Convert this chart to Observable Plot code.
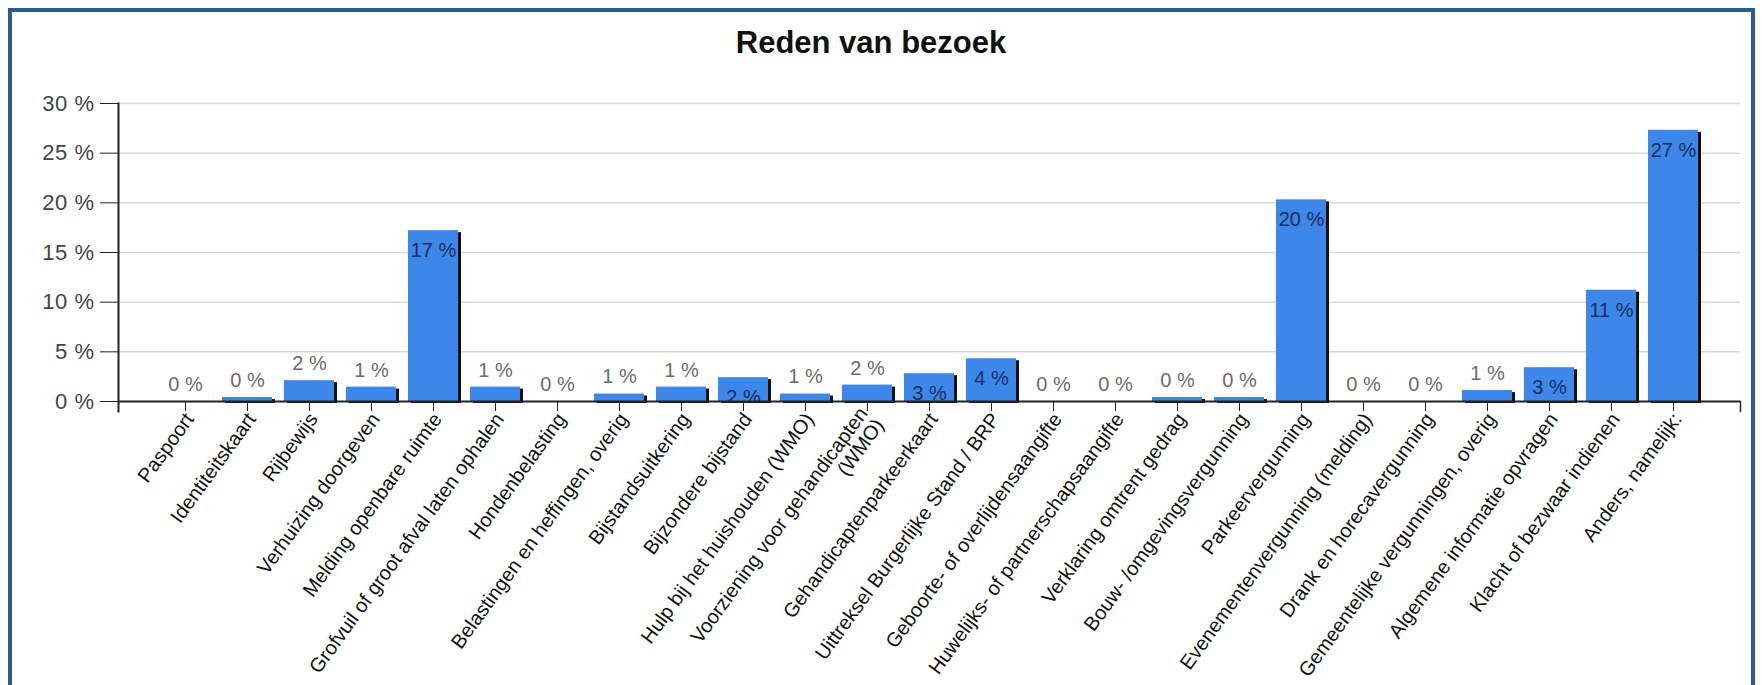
<!DOCTYPE html>
<html>
<head>
<meta charset="utf-8">
<script src="https://cdn.jsdelivr.net/npm/d3@7"></script>
<script src="https://cdn.jsdelivr.net/npm/@observablehq/plot@0.6"></script>
<style>
  body { margin: 0; background: #fff; font-family: "Liberation Sans", Arial, sans-serif; }
  #frame { position: absolute; left: 8px; top: 8px; width: 1747px; height: 690px; border: 4px solid #2c5a93; border-bottom: none; box-sizing: border-box; pointer-events: none; }
  #title { height: 60px; box-sizing: border-box; padding-top: 28px; line-height: 30px; width: 1742px; text-align: center; font-weight: bold; font-size: 31px; color: #111; }
  #chart { position: relative; }
  #chart g[aria-label="y-axis tick label"] text { letter-spacing: 0.5px; }
</style>
</head>
<body>
<div id="frame"></div>
<div id="title">Reden van bezoek</div>
<div id="chart"></div>
<script>
const categories = [
  "Paspoort",
  "Identiteitskaart",
  "Rijbewijs",
  "Verhuizing doorgeven",
  "Melding openbare ruimte",
  "Grofvuil of groot afval laten ophalen",
  "Hondenbelasting",
  "Belastingen en heffingen, overig",
  "Bijstandsuitkering",
  "Bijzondere bijstand",
  "Hulp bij het huishouden (WMO)",
  "Voorziening voor gehandicapten (WMO)",
  "Gehandicaptenparkeerkaart",
  "Uittreksel Burgerlijke Stand / BRP",
  "Geboorte- of overlijdensaangifte",
  "Huwelijks- of partnerschapsaangifte",
  "Verklaring omtrent gedrag",
  "Bouw- /omgevingsvergunning",
  "Parkeervergunning",
  "Evenementenvergunning (melding)",
  "Drank en horecavergunning",
  "Gemeentelijke vergunningen, overig",
  "Algemene informatie opvragen",
  "Klacht of bezwaar indienen",
  "Anders, namelijk:"
];
const values = [0, 0.4, 2.1, 1.45, 17.2, 1.45, 0, 0.75, 1.45, 2.4, 0.75, 1.65, 2.8, 4.3, 0, 0, 0.4, 0.4, 20.3, 0, 0, 1.1, 3.4, 11.2, 27.3];
const yTicks = [0, 5, 10, 15, 20, 25, 30];
const wrappedLabels = { "Voorziening voor gehandicapten (WMO)": "Voorziening voor gehandicapten\n(WMO)" };

const data = categories.map((c, i) => ({ category: c, value: values[i], label: Math.round(values[i]) + " %" }));
const insideThreshold = 2.2;

const chart = Plot.plot({
  width: 1762,
  height: 625,
  marginTop: 43,
  marginBottom: 284,
  marginLeft: 118,
  marginRight: 22,
  style: { fontFamily: "'Liberation Sans', Arial, sans-serif", background: "transparent" },
  x: { domain: categories, paddingInner: 0.2, paddingOuter: 0.6, label: null },
  y: { domain: [0, 30], label: null },
  marks: [
    Plot.gridY(yTicks.filter(d => d > 0), { stroke: "#d9d9d9", strokeOpacity: 1, strokeWidth: 1.5 }),
    Plot.barY(data, { x: "category", y: "value", fill: "#111", dx: 3, dy: 2 }),
    Plot.barY(data, { x: "category", y: "value", fill: "#3d86ea" }),
    Plot.text(data.filter(d => d.value <= insideThreshold), { x: "category", y: "value", text: "label", dy: -17, fill: "#6b6b6b", fontSize: 20 }),
    Plot.text(data.filter(d => d.value > insideThreshold), { x: "category", y: "value", text: "label", dy: 20, fill: "#1b2f5e", fontSize: 20, clip: true }),
    Plot.ruleY([0], { stroke: "#222", strokeWidth: 2 }),
    Plot.frame({ anchor: "left", stroke: "#222", strokeWidth: 2, insetBottom: -10 }),
    Plot.frame({ anchor: "right", stroke: "#222", strokeWidth: 1.5, insetTop: 298, insetBottom: -10 }),
    Plot.axisY({ ticks: yTicks, tickFormat: d => d + " %", tickSize: 18, tickPadding: 6, fontSize: 22, stroke: "#222", fill: "#444" }),
    Plot.axisX({ tickSize: 10, stroke: "#222", tickFormat: () => "" }),
    Plot.axisX({ tickRotate: -54, tickSize: 0, tickPadding: 14, dx: 4, fontSize: 20, fill: "#111", tickFormat: d => wrappedLabels[d] ?? d })
  ]
});
document.getElementById("chart").appendChild(chart);
</script>
</body>
</html>
